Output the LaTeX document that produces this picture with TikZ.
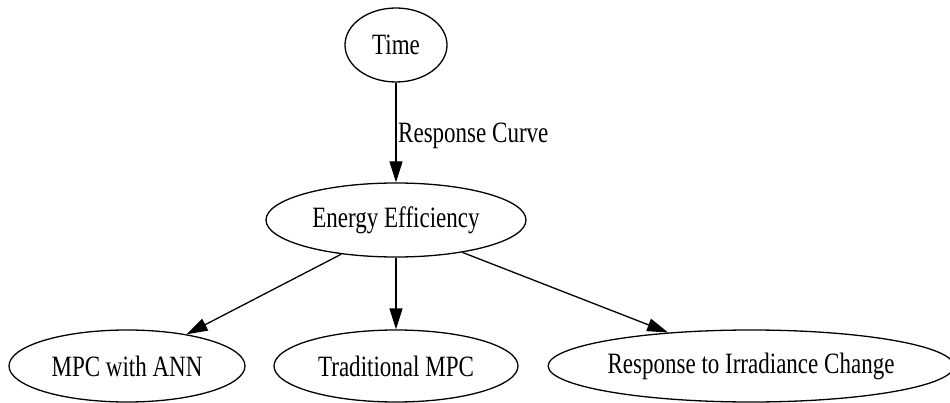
\documentclass[tikz,border=0pt]{standalone}
\usepackage{fontspec}
\setmainfont{Liberation Serif}
\usetikzlibrary{shapes.geometric,arrows.meta}

% narrow graph text, as set by the renderer
\newcommand{\gtext}[1]{\scalebox{0.78}[1]{#1}}

\tikzset{
  gnode/.style={draw, ellipse, line width=1.3pt, inner sep=0pt,
    font=\fontsize{29.5}{34}\selectfont},
  gedge/.style={draw, line width=1.3pt,
    -{Triangle[length=21pt,width=13pt]}},
  glabel/.style={inner sep=0pt, font=\fontsize{29.5}{34}\selectfont}
}

\begin{document}
\begin{tikzpicture}[x=1pt,y=-1pt]
  \useasboundingbox (0,0) rectangle (950,403);

  \node[gnode, minimum width=102pt, minimum height=74pt] (time) at (396,45) {\gtext{Time}};
  \node[gnode, minimum width=260pt, minimum height=74pt] (ee) at (396,220) {\gtext{Energy Efficiency}};
  \node[gnode, minimum width=236pt, minimum height=72pt] (ann) at (127,366) {\gtext{MPC with ANN}};
  \node[gnode, minimum width=244pt, minimum height=72pt] (trad) at (396,366) {\gtext{Traditional MPC}};
  \node[gnode, minimum width=392pt, minimum height=72pt] (irr) at (751,366) {\gtext{Response to Irradiance Change}};

  \draw[gedge] (time) -- (ee);
  \node[glabel, anchor=base west] (lbl) at (398,143) {\gtext{Response Curve}};

  \draw[gedge] (ee.212) -- (ann.28);
  \draw[gedge] (ee) -- (trad);
  \draw[gedge] (ee.334) -- (irr.158);
\end{tikzpicture}
\end{document}
